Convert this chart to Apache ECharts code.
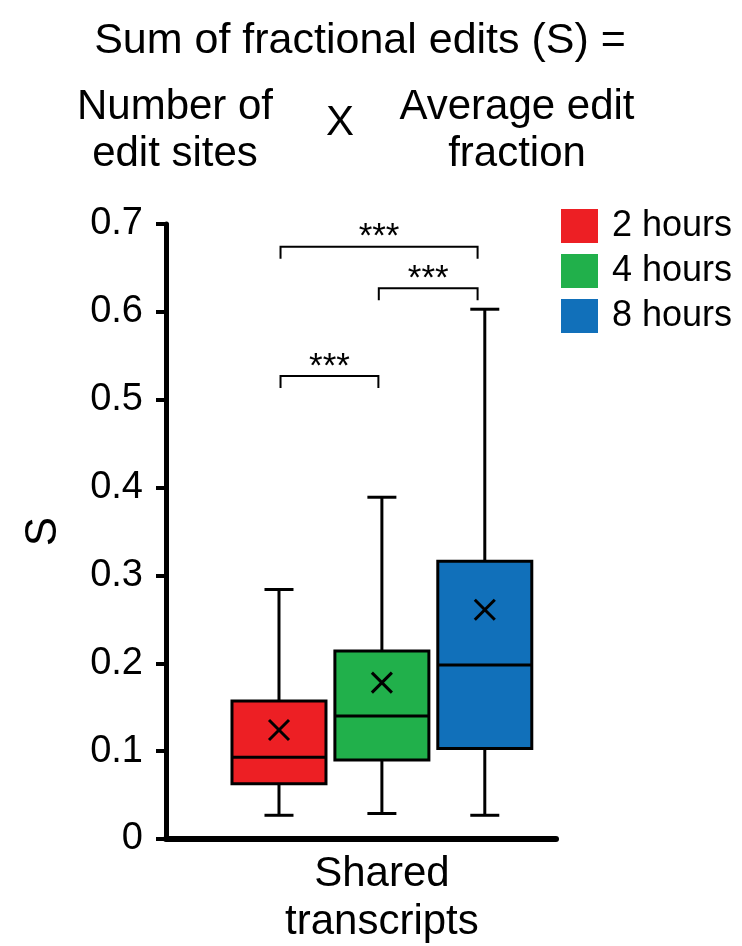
<!DOCTYPE html>
<html><head><meta charset="utf-8">
<script src="https://cdn.jsdelivr.net/npm/echarts@6/dist/echarts.min.js"></script>
<style>html,body{margin:0;padding:0;background:#fff}#c{width:742px;height:946px}</style>
</head><body><div id="c"></div>
<script>
// ---- data ----
const seriesNames = ['2 hours', '4 hours', '8 hours'];
const seriesColors = ['#ed1f24', '#21b04b', '#1170ba'];
const boxPositions = [1, 2, 3];
const whiskerLow = [0.027, 0.029, 0.027];
const q1 = [0.063, 0.090, 0.103];
const median = [0.093, 0.140, 0.198];
const q3 = [0.157, 0.214, 0.316];
const whiskerHigh = [0.284, 0.389, 0.603];
const means = [0.124, 0.178, 0.261];
const yTickLabels = ['0', '0.1', '0.2', '0.3', '0.4', '0.5', '0.6', '0.7'];
const categoryLabel = 'Shared\ntranscripts';
const yAxisName = 'S';
const bracketFrom = [1.015, 1.97, 1.015];
const bracketTo = [1.966, 2.93, 2.93];
const bracketY = [0.527, 0.627, 0.674];
const bracketLabels = ['***', '***', '***'];
const headerTitle = 'Sum of fractional edits (S) =';
const headerLeft = 'Number of\nedit sites';
const headerTimes = 'X';
const headerRight = 'Average edit\nfraction';

// ---- styles ----
const FONT = '"Liberation Sans", Arial, Helvetica, sans-serif';
const BOX_W = 94, CAP_W = 29, MEAN_SIZE = 20, LW = 3;
const LEG_DROP = 12;

const chart = echarts.init(document.getElementById('c'), null, {renderer: 'canvas'});

function boxRenderItem(params, api) {
  const x = api.value(0);
  const pLow = api.coord([x, api.value(1)]);
  const pQ1 = api.coord([x, api.value(2)]);
  const pMed = api.coord([x, api.value(3)]);
  const pQ3 = api.coord([x, api.value(4)]);
  const pHigh = api.coord([x, api.value(5)]);
  const pMean = api.coord([x, api.value(6)]);
  const cx = pLow[0];
  const hw = BOX_W / 2, cw = CAP_W / 2, m = MEAN_SIZE / 2;
  const color = api.visual('color');
  const line = (x1, y1, x2, y2) => ({type: 'line', shape: {x1, y1, x2, y2}, style: {stroke: '#000', lineWidth: LW}});
  return {type: 'group', children: [
    line(cx, pHigh[1], cx, pQ3[1]),
    line(cx, pQ1[1], cx, pLow[1]),
    line(cx - cw, pHigh[1], cx + cw, pHigh[1]),
    line(cx - cw, pLow[1], cx + cw, pLow[1]),
    {type: 'rect', shape: {x: cx - hw, y: pQ3[1], width: BOX_W, height: pQ1[1] - pQ3[1]},
      style: {fill: color, stroke: '#000', lineWidth: LW}},
    line(cx - hw, pMed[1], cx + hw, pMed[1]),
    line(cx - m, pMean[1] - m, cx + m, pMean[1] + m),
    line(cx - m, pMean[1] + m, cx + m, pMean[1] - m)
  ]};
}

function bracketRenderItem(params, api) {
  const i = params.dataIndex;
  const a = api.coord([api.value(0), api.value(2)]);
  const b = api.coord([api.value(1), api.value(2)]);
  return {type: 'group', children: [
    {type: 'polyline', shape: {points: [[a[0], a[1] + LEG_DROP], [a[0], a[1]], [b[0], b[1]], [b[0], b[1] + LEG_DROP]]},
      style: {stroke: '#000', lineWidth: 2, fill: null}},
    {type: 'text', style: {text: bracketLabels[i], x: (a[0] + b[0]) / 2, y: a[1] - 9,
      font: '35px ' + FONT, fill: '#000', align: 'center', verticalAlign: 'middle',
      textAlign: 'center', textVerticalAlign: 'middle'}}
  ]};
}

const series = seriesNames.map((name, i) => ({
  type: 'custom',
  name: name,
  itemStyle: {color: seriesColors[i]},
  renderItem: boxRenderItem,
  encode: {x: 0, y: [1, 2, 3, 4, 5, 6]},
  data: [[boxPositions[i], whiskerLow[i], q1[i], median[i], q3[i], whiskerHigh[i], means[i]]]
}));
series.push({
  type: 'custom',
  name: 'significance',
  renderItem: bracketRenderItem,
  encode: {x: [0, 1], y: 2},
  data: bracketFrom.map((f, i) => [f, bracketTo[i], bracketY[i]])
});

function headerText(text, x, y, size) {
  return {type: 'text', x: x, y: y, style: {text: text, font: size + 'px ' + FONT, fill: '#000',
    align: 'center', verticalAlign: 'top', textAlign: 'center', textVerticalAlign: 'top', lineHeight: 47}};
}

chart.setOption({
  animation: false,
  backgroundColor: '#fff',
  grid: {left: 166, top: 224, width: 390, height: 616},
  legend: {
    data: seriesNames, orient: 'vertical', left: 561, top: 208, padding: 0,
    itemWidth: 37, itemHeight: 34, itemGap: 9, icon: 'rect',
    textStyle: {fontSize: 36, color: '#000', fontFamily: FONT, padding: [0, 0, 0, 9]}
  },
  xAxis: {
    type: 'value', min: -0.098, max: 3.692,
    axisLine: {show: true, onZero: false, lineStyle: {color: '#000', width: 6}},
    axisTick: {show: false}, splitLine: {show: false},
    axisLabel: {customValues: [2], formatter: () => categoryLabel, fontSize: 42, lineHeight: 48,
      color: '#000', fontFamily: FONT, margin: 11}
  },
  yAxis: {
    type: 'value', min: 0, max: 0.7, interval: 0.1,
    name: yAxisName, nameLocation: 'middle', nameGap: 100,
    nameTextStyle: {fontSize: 44, color: '#000', fontFamily: FONT},
    axisLine: {show: true, onZero: false, lineStyle: {color: '#000', width: 5}},
    axisTick: {show: true, length: 10, lineStyle: {color: '#000', width: 4}},
    splitLine: {show: false},
    axisLabel: {fontSize: 38, color: '#000', fontFamily: FONT, margin: 23,
      formatter: v => yTickLabels[Math.round(v * 10)]}
  },
  graphic: [
    headerText(headerTitle, 360, 18, 43),
    headerText(headerLeft, 175, 84, 42),
    headerText(headerTimes, 340, 100, 42),
    headerText(headerRight, 517, 84, 42)
  ],
  series: series
});
</script></body></html>
